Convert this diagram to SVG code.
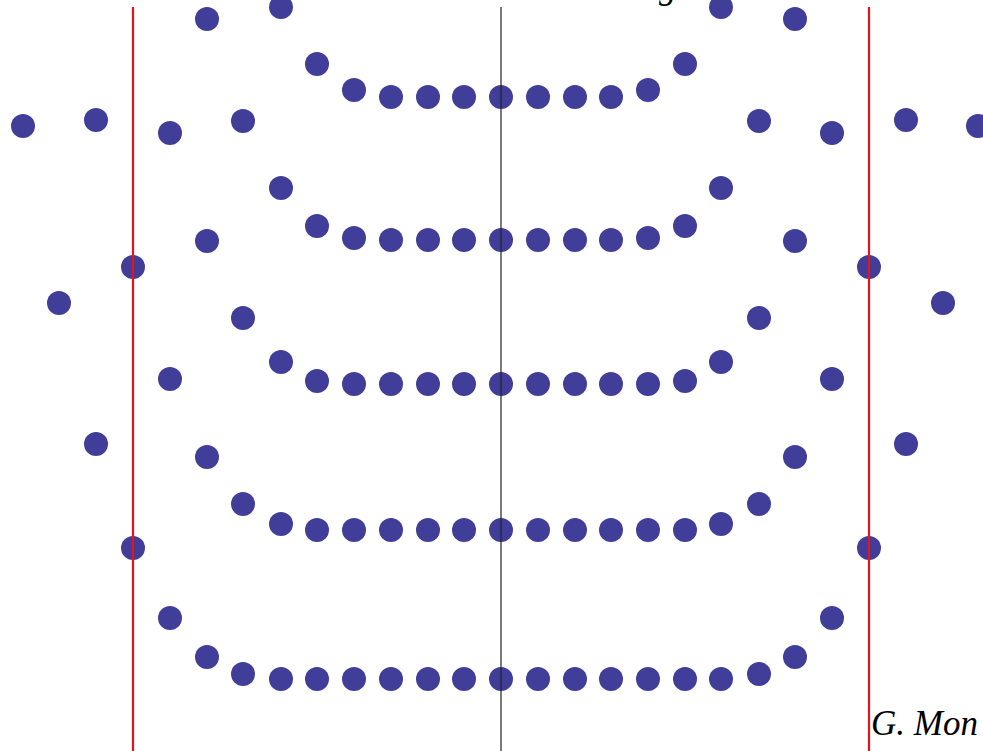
<svg xmlns="http://www.w3.org/2000/svg" width="983" height="751" viewBox="0 0 983 751">
<defs>
<style>
.d{fill:#403e98}
.red{stroke:#e8131b;stroke-width:2.2;fill:none}
.mid{stroke:#222;stroke-width:1.2;fill:none}
.t{font-family:"Liberation Serif","Times New Roman",serif;font-style:italic;font-size:35px;fill:#000}
</style>
</defs>
<rect width="983" height="751" fill="#fff"/>
<g id="dots" class="d">
<g id="row1">
<circle cx="391" cy="97" r="12"/><circle cx="428" cy="97" r="12"/><circle cx="464" cy="97" r="12"/><circle cx="501" cy="97" r="12"/><circle cx="538" cy="97" r="12"/><circle cx="575" cy="97" r="12"/><circle cx="611" cy="97" r="12"/>
<circle cx="354" cy="90" r="12"/><circle cx="648" cy="90" r="12"/>
<circle cx="317" cy="64" r="12"/><circle cx="685" cy="64" r="12"/>
<circle cx="281" cy="7" r="12"/><circle cx="721" cy="7" r="12"/>
</g>
<g id="row2">
<circle cx="391" cy="240" r="12"/><circle cx="428" cy="240" r="12"/><circle cx="464" cy="240" r="12"/><circle cx="501" cy="240" r="12"/><circle cx="538" cy="240" r="12"/><circle cx="575" cy="240" r="12"/><circle cx="611" cy="240" r="12"/>
<circle cx="354" cy="238" r="12"/><circle cx="648" cy="238" r="12"/>
<circle cx="317" cy="226" r="12"/><circle cx="685" cy="226" r="12"/>
<circle cx="281" cy="188" r="12"/><circle cx="721" cy="188" r="12"/>
</g>
<g id="row3">
<circle cx="354" cy="384" r="12"/><circle cx="391" cy="384" r="12"/><circle cx="428" cy="384" r="12"/><circle cx="464" cy="384" r="12"/><circle cx="501" cy="384" r="12"/><circle cx="538" cy="384" r="12"/><circle cx="575" cy="384" r="12"/><circle cx="611" cy="384" r="12"/><circle cx="648" cy="384" r="12"/>
<circle cx="317" cy="381" r="12"/><circle cx="685" cy="381" r="12"/>
<circle cx="281" cy="362" r="12"/><circle cx="721" cy="362" r="12"/>
</g>
<g id="row4">
<circle cx="317" cy="530" r="12"/><circle cx="354" cy="530" r="12"/><circle cx="391" cy="530" r="12"/><circle cx="428" cy="530" r="12"/><circle cx="464" cy="530" r="12"/><circle cx="501" cy="530" r="12"/><circle cx="538" cy="530" r="12"/><circle cx="575" cy="530" r="12"/><circle cx="611" cy="530" r="12"/><circle cx="648" cy="530" r="12"/><circle cx="685" cy="530" r="12"/>
<circle cx="281" cy="524" r="12"/><circle cx="721" cy="524" r="12"/>
<circle cx="243" cy="504" r="12"/><circle cx="759" cy="504" r="12"/>
<circle cx="207" cy="457" r="12"/><circle cx="795" cy="457" r="12"/>
</g>
<g id="row5">
<circle cx="281" cy="679" r="12"/><circle cx="317" cy="679" r="12"/><circle cx="354" cy="679" r="12"/><circle cx="391" cy="679" r="12"/><circle cx="428" cy="679" r="12"/><circle cx="464" cy="679" r="12"/><circle cx="501" cy="679" r="12"/><circle cx="538" cy="679" r="12"/><circle cx="575" cy="679" r="12"/><circle cx="611" cy="679" r="12"/><circle cx="648" cy="679" r="12"/><circle cx="685" cy="679" r="12"/><circle cx="721" cy="679" r="12"/>
<circle cx="243" cy="674" r="12"/><circle cx="759" cy="674" r="12"/>
<circle cx="207" cy="657" r="12"/><circle cx="795" cy="657" r="12"/>
<circle cx="170" cy="618" r="12"/><circle cx="832" cy="618" r="12"/>
<circle cx="133" cy="548" r="12"/><circle cx="869" cy="548" r="12"/>
</g>
<g id="outer">
<circle cx="207" cy="19" r="12"/><circle cx="795" cy="19" r="12"/>
<circle cx="243" cy="121" r="12"/><circle cx="759" cy="121" r="12"/>
<circle cx="170" cy="133" r="12"/><circle cx="832" cy="133" r="12"/>
<circle cx="96" cy="120" r="12"/><circle cx="906" cy="120" r="12"/>
<circle cx="23" cy="126" r="12"/><circle cx="978" cy="126" r="12"/>
<circle cx="207" cy="241" r="12"/><circle cx="795" cy="241" r="12"/>
<circle cx="133" cy="267" r="12"/><circle cx="869" cy="267" r="12"/>
<circle cx="59" cy="303" r="12"/><circle cx="943" cy="303" r="12"/>
<circle cx="243" cy="318" r="12"/><circle cx="759" cy="318" r="12"/>
<circle cx="170" cy="379" r="12"/><circle cx="832" cy="379" r="12"/>
<circle cx="96" cy="444" r="12"/><circle cx="906" cy="444" r="12"/>
</g>
</g>
<g id="lines">
<line class="red" x1="133" y1="7" x2="133" y2="751"/>
<line class="red" x1="869" y1="7" x2="869" y2="751"/>
<line class="mid" x1="501" y1="7" x2="501" y2="751"/>
</g>
<text class="t" x="659" y="-2">g</text>
<text class="t" x="871" y="735">G. Mon</text>
</svg>
